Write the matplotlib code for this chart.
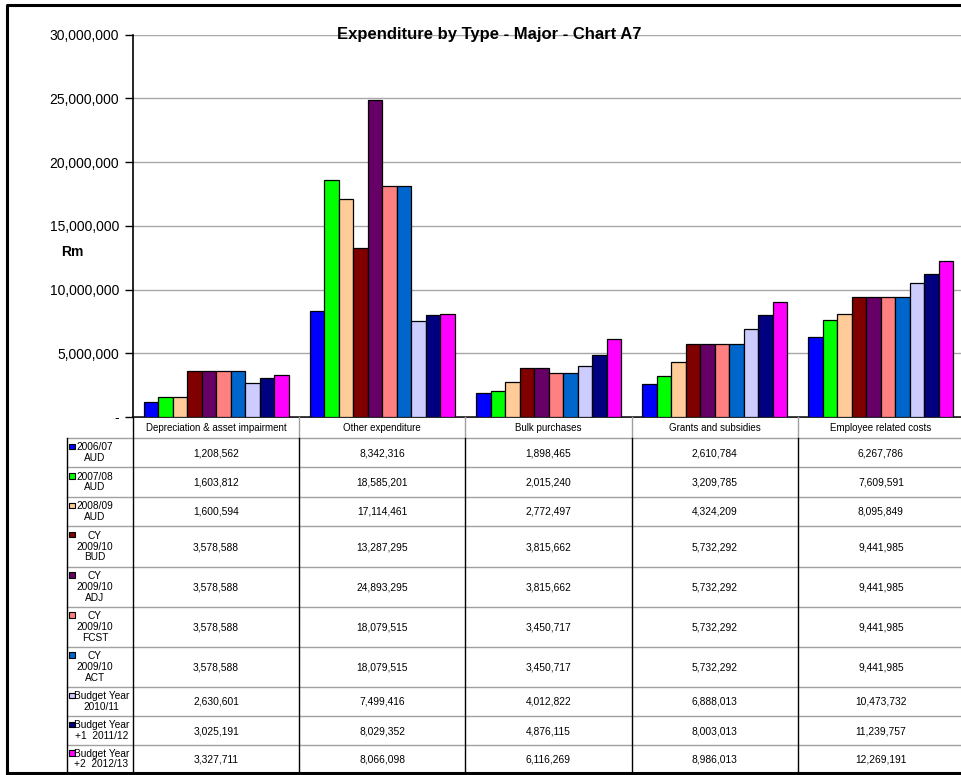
import matplotlib
matplotlib.use("Agg")
import matplotlib.pyplot as plt
from matplotlib.patches import Rectangle
import numpy as np

plt.rcParams['font.family'] = ['Liberation Sans', 'DejaVu Sans']

# ---------------- data ----------------
categories = ["Depreciation & asset impairment", "Other expenditure",
              "Bulk purchases", "Grants and subsidies", "Employee related costs"]

series_labels = ["2006/07\nAUD", "2007/08\nAUD", "2008/09\nAUD",
                 "CY\n2009/10\nBUD", "CY\n2009/10\nADJ", "CY\n2009/10\nFCST",
                 "CY\n2009/10\nACT", "Budget Year\n2010/11",
                 "Budget Year\n+1  2011/12", "Budget Year\n+2  2012/13"]

aud_2006 = [1208562, 8342316, 1898465, 2610784, 6267786]
aud_2007 = [1603812, 18585201, 2015240, 3209785, 7609591]
aud_2008 = [1600594, 17114461, 2772497, 4324209, 8095849]
cy_bud = [3578588, 13287295, 3815662, 5732292, 9441985]
cy_adj = [3578588, 24893295, 3815662, 5732292, 9441985]
cy_fcst = [3578588, 18079515, 3450717, 5732292, 9441985]
cy_act = [3578588, 18079515, 3450717, 5732292, 9441985]
budget_2010 = [2630601, 7499416, 4012822, 6888013, 10473732]
budget_2011 = [3025191, 8029352, 4876115, 8003013, 11239757]
budget_2012 = [3327711, 8066098, 6116269, 8986013, 12269191]

series_values = [aud_2006, aud_2007, aud_2008, cy_bud, cy_adj, cy_fcst,
                 cy_act, budget_2010, budget_2011, budget_2012]

colors = ["#0000FF", "#00FF00", "#FFCC99", "#800000", "#660066",
          "#FF8080", "#0066CC", "#CCCCFF", "#000080", "#FF00FF"]

yticks = [0, 5000000, 10000000, 15000000, 20000000, 25000000, 30000000]
ytick_labels = ["-", "5,000,000", "10,000,000", "15,000,000",
                "20,000,000", "25,000,000", "30,000,000"]

title = "Expenditure by Type - Major - Chart A7"
ylabel = "Rm"

# ---------------- layout (pixels) ----------------
W, H = 961, 775
dpi = 100
plot_left, plot_top, plot_bottom = 133, 34.5, 417
cat_w = 166.2
plot_right = plot_left + cat_w * len(categories)
header_bottom = 438
row_edges = [438, 467, 497, 526, 567, 607, 647, 687, 716, 745, 773]
label_left = 67

fig = plt.figure(figsize=(W / dpi, H / dpi), dpi=dpi)

# overlay for pixel-space drawing
ov = fig.add_axes([0, 0, 1, 1], zorder=0)
ov.set_xlim(0, W)
ov.set_ylim(H, 0)
ov.axis("off")

ax = fig.add_axes([plot_left / W, 1 - plot_bottom / H,
                   (plot_right - plot_left) / W, (plot_bottom - plot_top) / H],
                  zorder=2)
ax.patch.set_alpha(0)

n = len(series_values)
bar_w = 14.5 / cat_w
x = np.arange(len(categories))
for i, (vals, col) in enumerate(zip(series_values, colors)):
    ax.bar(x + (i - (n - 1) / 2) * bar_w, vals, width=bar_w, color=col,
           edgecolor="black", linewidth=0.9, zorder=3)

ax.set_xlim(-0.5, len(categories) - 0.5)
ax.set_ylim(0, 30000000)
ax.set_yticks(yticks)
ax.set_yticklabels(ytick_labels, fontsize=10)
ax.set_xticks([])
ax.yaxis.grid(True, color="#a8a8a8", linewidth=1.0, zorder=0)
ax.set_axisbelow(True)
for s in ["top", "right", "bottom"]:
    ax.spines[s].set_visible(False)
ax.spines["left"].set_linewidth(1.2)
ax.tick_params(axis="y", length=6, width=1.0, direction="out", pad=4)

# title
fig.text(489 / W, 1 - 35 / H, title, fontsize=12, fontweight="bold",
         ha="center", va="center", zorder=10)
ov.text(72, 252, ylabel, fontsize=10, fontweight="bold", ha="center", va="center")

# outer border
ov.plot([7, 7, W + 5], [773, 5, 5], color="black", lw=2.2, solid_capstyle="butt")
ov.plot([7, W + 5], [773, 773], color="black", lw=2.2)

# table lines
ov.plot([plot_left, plot_right], [plot_bottom, plot_bottom], color="black", lw=1.2)
for y in row_edges[:-1]:
    ov.plot([label_left, plot_right], [y, y], color="#a0a0a0", lw=1.0)
ov.plot([label_left, label_left], [header_bottom, 773], color="black", lw=1.0)
ov.plot([plot_left, plot_left], [plot_bottom, 773], color="black", lw=1.0)
for k in range(1, len(categories)):
    xd = plot_left + k * cat_w
    ov.plot([xd, xd], [plot_bottom, header_bottom], color="#a0a0a0", lw=1.0)
    ov.plot([xd, xd], [header_bottom, 773], color="black", lw=1.0)

# header
for k, c in enumerate(categories):
    ov.text(plot_left + (k + 0.5) * cat_w, (plot_bottom + header_bottom) / 2 + 0.5,
            c, fontsize=7, ha="center", va="center")

# rows
for i, (lab, vals, col) in enumerate(zip(series_labels, series_values, colors)):
    y0, y1 = row_edges[i], row_edges[i + 1]
    yc = (y0 + y1) / 2
    nl = lab.count("\n") + 1
    line_h = 12
    ytop = yc - (nl - 1) * line_h / 2
    xc = 101.5 if lab.startswith("Budget") else 95
    ov.text(xc, yc, lab, fontsize=7.3, ha="center", va="center",
            multialignment="center", linespacing=1.08)
    ov.add_patch(Rectangle((69, ytop - 3.0), 5.5, 5.5, facecolor=col,
                           edgecolor="black", lw=0.8))
    for k, v in enumerate(vals):
        ov.text(plot_left + (k + 0.5) * cat_w, yc + 0.5, f"{v:,}", fontsize=7.4,
                ha="center", va="center")

fig.savefig("out.png", dpi=dpi)
